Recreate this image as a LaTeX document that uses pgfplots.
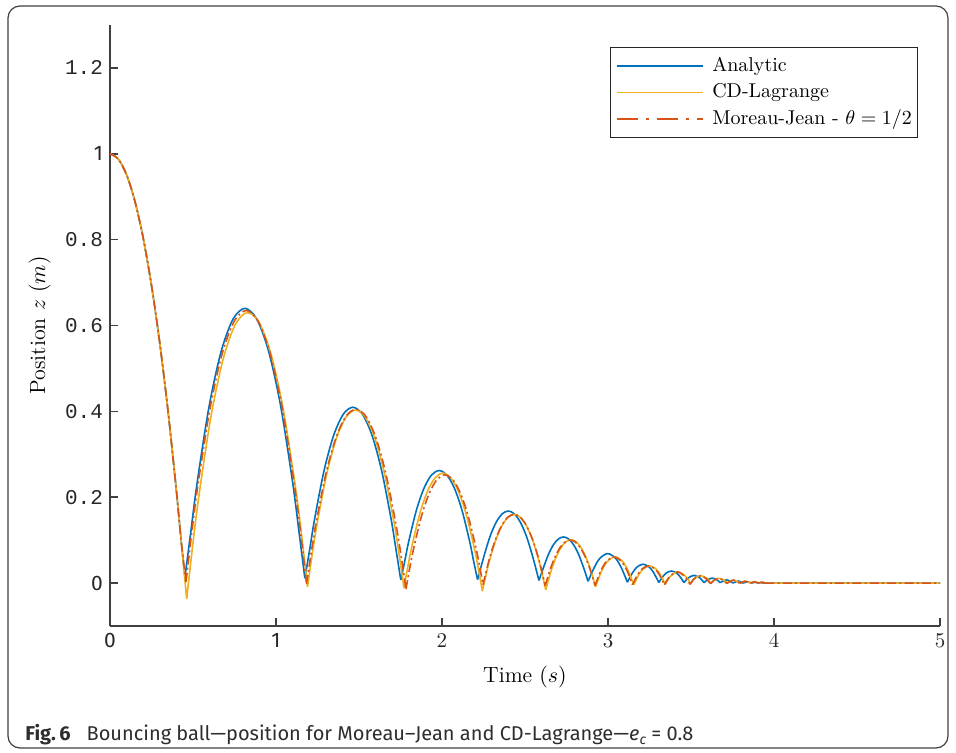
\documentclass[border=0pt]{standalone}
\usepackage{pgfplots}
\pgfplotsset{compat=1.18}
\usepackage{fontspec}
\newfontfamily\monofont{Liberation Mono}
\newfontfamily\firafont{Fira Sans}
\definecolor{mblue}{RGB}{0,114,189}
\definecolor{myellow}{RGB}{237,177,32}
\definecolor{morange}{RGB}{217,83,25}
\definecolor{axgray}{RGB}{64,64,64}
\definecolor{capgray}{RGB}{45,45,45}
\begin{document}
\begin{tikzpicture}
\useasboundingbox (-55pt,-63.5pt) rectangle (423pt,313pt);
\draw[black!75, line width=0.6pt, rounded corners=6pt] (-51pt,-61pt) rectangle (419pt,310pt);
\begin{axis}[
  scale only axis, width=415pt, height=300.5pt,
  xmin=0, xmax=5, ymin=-0.1, ymax=1.3,
  axis lines=left,
  axis line style={axgray, line width=0.8pt, -},
  xtick={0,1,2,3,4,5},
  xticklabels={{\firafont 0},{\firafont 1},2,3,4,5},
  ytick={0,0.2,0.4,0.6,0.8,1,1.2},
  yticklabels={{\firafont 0},{\monofont 0.2},{\monofont 0.4},{\monofont 0.6},{\monofont 0.8},{\firafont 1},{\monofont 1.2}},
  tick style={axgray, line width=0.8pt},
  major tick length=4pt,
  tick align=inside,
  ticklabel style={font=\fontsize{10.5}{12}\selectfont, text=black!85},
  xlabel={Time $(s)$}, ylabel={Position $z$ $(m)$},
  label style={font=\fontsize{11}{13}\selectfont},
  xlabel style={at={(axis description cs:0.5,-0.0932)}, anchor=base},
  ylabel style={at={(axis description cs:-0.0783,0.5)}, anchor=base},
  legend style={at={(rel axis cs:0.9735,0.9634)}, anchor=north east, draw=black!85, line width=0.6pt, fill=white,
    font=\fontsize{10}{12}\selectfont, inner xsep=1.2pt, inner ysep=2.75pt, row sep=0.25pt,
    nodes={inner sep=1.5pt, text height=7.5pt, text depth=2.5pt}},
  legend cell align=left,
  legend image code/.code={\path (-2pt,0pt); \draw[#1] (0pt,0pt) -- (43pt,0pt); \path (45.5pt,0pt);},
  unbounded coords=jump,
]
\addplot[mblue, line width=0.8pt, smooth] coordinates {
(0,1) (0.05,0.9877) (0.1,0.951) (0.15,0.8896) (0.2,0.8038) (0.25,0.6934) (0.3,0.5586) (0.35,0.3991) (0.4,0.2152) (0.425,0.114) (0.4515,0.014)
(0.4515,nan)
(0.4515,0.014) (0.4876,0.1216) (0.5237,0.2304) (0.596,0.4096) (0.6682,0.5376) (0.7405,0.6144) (0.8127,0.64) (0.8849,0.6144) (0.9572,0.5376) (1.0294,0.4096) (1.1017,0.2304) (1.1378,0.1216) (1.174,0.011)
(1.174,nan)
(1.174,0.011) (1.2029,0.0778) (1.2318,0.1475) (1.2896,0.2621) (1.3474,0.3441) (1.4052,0.3932) (1.463,0.4096) (1.5207,0.3932) (1.5785,0.3441) (1.6363,0.2621) (1.6941,0.1475) (1.723,0.0778) (1.7519,0.007)
(1.7519,nan)
(1.7519,0.007) (1.775,0.0498) (1.7981,0.0944) (1.8444,0.1678) (1.8906,0.2202) (1.9369,0.2517) (1.9831,0.2621) (2.0293,0.2517) (2.0756,0.2202) (2.1218,0.1678) (2.1681,0.0944) (2.1912,0.0498) (2.2143,0.008)
(2.2143,nan)
(2.2143,0.008) (2.2513,0.0604) (2.2883,0.1074) (2.3253,0.1409) (2.3623,0.1611) (2.3993,0.1678) (2.4362,0.1611) (2.4732,0.1409) (2.5102,0.1074) (2.5472,0.0604) (2.5841,0.006)
(2.5841,nan)
(2.5841,0.006) (2.6137,0.0387) (2.6433,0.0687) (2.6729,0.0902) (2.7025,0.1031) (2.7321,0.1074) (2.7616,0.1031) (2.7912,0.0902) (2.8208,0.0687) (2.8504,0.0387) (2.88,0.004)
(2.88,nan)
(2.88,0.004) (2.9155,0.035) (2.951,0.0577) (2.9984,0.0687) (3.0457,0.0577) (3.0812,0.035) (3.1168,0.002)
(3.1168,nan)
(3.1168,0.002) (3.1452,0.0224) (3.1736,0.037) (3.2115,0.044) (3.2494,0.037) (3.2778,0.0224) (3.3062,0.001)
(3.3062,nan)
(3.3062,0.001) (3.3289,0.0143) (3.3517,0.0236) (3.382,0.0281) (3.4123,0.0236) (3.435,0.0143) (3.4577,0.001)
(3.4577,nan)
(3.4577,0.001) (3.4819,0.0115) (3.5183,0.018) (3.5546,0.0115) (3.5789,0.001)
(3.5789,nan)
(3.5789,0.001) (3.5983,0.0074) (3.6274,0.0115) (3.6565,0.0074) (3.6758,0.001)
(3.6758,nan)
(3.6758,0.001) (3.7146,0.0074) (3.7534,0)
(3.7534,nan)
(3.7534,0) (3.7844,0.0047) (3.8154,0)
(3.8154,nan)
(3.8154,0) (3.8403,0.003) (3.8651,0)
(3.8651,nan)
(3.8651,0) (3.885,0.0019) (3.9048,0)
(3.9048,nan)
(3.9048,0) (3.9207,0.0012) (3.9366,0)
(3.9366,nan)
(3.9366,0) (5,0)
};
\addlegendentry{Analytic}
\addplot[myellow, line width=0.8pt, smooth] coordinates {
(0,1) (0.05,0.9877) (0.1,0.951) (0.15,0.8896) (0.2,0.8038) (0.25,0.6934) (0.3,0.5586) (0.35,0.3991) (0.4,0.2152) (0.43,0.093) (0.462,-0.037)
(0.462,nan)
(0.462,-0.037) (0.4984,0.0885) (0.5348,0.2009) (0.6076,0.3865) (0.6804,0.5199) (0.7532,0.6011) (0.826,0.63) (0.8988,0.6067) (0.9716,0.5311) (1.0444,0.4033) (1.1172,0.2233) (1.1536,0.1137) (1.19,-0.009)
(1.19,nan)
(1.19,-0.009) (1.2191,0.0694) (1.2481,0.1396) (1.3062,0.255) (1.3643,0.3374) (1.4224,0.3868) (1.4805,0.403) (1.5386,0.3862) (1.5967,0.3362) (1.6548,0.2532) (1.7129,0.1372) (1.742,0.0667) (1.771,-0.012)
(1.771,nan)
(1.771,-0.012) (1.7946,0.0392) (1.8182,0.085) (1.8654,0.1604) (1.9126,0.214) (1.9598,0.2458) (2.007,0.256) (2.0542,0.2444) (2.1014,0.2112) (2.1486,0.1562) (2.1958,0.0794) (2.2194,0.0329) (2.243,-0.019)
(2.243,nan)
(2.243,-0.019) (2.2812,0.0452) (2.3194,0.0952) (2.3576,0.131) (2.3958,0.1526) (2.434,0.16) (2.4722,0.1532) (2.5104,0.1322) (2.5486,0.097) (2.5868,0.0476) (2.625,-0.016)
(2.625,nan)
(2.625,-0.016) (2.655,0.0256) (2.685,0.058) (2.715,0.0814) (2.745,0.0958) (2.775,0.101) (2.805,0.0972) (2.835,0.0842) (2.865,0.0622) (2.895,0.0312) (2.925,-0.009)
(2.925,nan)
(2.925,-0.009) (2.9595,0.0261) (2.994,0.0492) (3.04,0.061) (3.086,0.0512) (3.1205,0.0296) (3.155,-0.004)
(3.155,nan)
(3.155,-0.004) (3.1835,0.0183) (3.212,0.0328) (3.25,0.04) (3.288,0.0332) (3.3165,0.019) (3.345,-0.003)
(3.345,nan)
(3.345,-0.003) (3.3756,0.0154) (3.4215,0.026) (3.4674,0.016) (3.498,-0.002)
(3.498,nan)
(3.498,-0.002) (3.5224,0.011) (3.559,0.017) (3.5956,0.011) (3.62,-0.001)
(3.62,nan)
(3.62,-0.001) (3.6396,0.007) (3.669,0.011) (3.6984,0.007) (3.718,0)
(3.718,nan)
(3.718,0) (3.757,0.007) (3.796,0)
(3.796,nan)
(3.796,0) (3.827,0.0045) (3.858,0)
(3.858,nan)
(3.858,0) (3.883,0.003) (3.908,0)
(3.908,nan)
(3.908,0) (3.928,0.002) (3.948,0)
(3.948,nan)
(3.948,0) (5,0)
};
\addlegendentry{CD-Lagrange}
\addplot[morange, line width=0.8pt, smooth, dash pattern=on 4.5pt off 1.6pt on 1pt off 1.6pt,
  legend image post style={dash pattern=on 10.5pt off 4pt on 1.5pt off 4pt}] coordinates {
(0,1) (0.05,0.9877) (0.1,0.951) (0.15,0.8896) (0.2,0.8038) (0.25,0.6934) (0.3,0.5586) (0.35,0.3991) (0.4,0.2152) (0.43,0.093) (0.458,0.003)
(0.458,nan)
(0.458,0.003) (0.4943,0.1234) (0.5306,0.2309) (0.6032,0.4081) (0.6758,0.5345) (0.7484,0.6101) (0.821,0.635) (0.8936,0.6091) (0.9662,0.5325) (1.0388,0.4051) (1.1114,0.2269) (1.1477,0.1188) (1.184,-0.002)
(1.184,nan)
(1.184,-0.002) (1.214,0.0759) (1.2439,0.1455) (1.3038,0.2599) (1.3637,0.3413) (1.4236,0.3897) (1.4835,0.405) (1.5434,0.3873) (1.6033,0.3365) (1.6632,0.2527) (1.7231,0.1359) (1.7531,0.0651) (1.783,-0.014)
(1.783,nan)
(1.783,-0.014) (1.8062,0.0361) (1.8294,0.081) (1.8758,0.155) (1.9222,0.2082) (1.9686,0.2406) (2.015,0.252) (2.0614,0.2426) (2.1078,0.2122) (2.1542,0.161) (2.2006,0.089) (2.2238,0.0451) (2.247,-0.004)
(2.247,nan)
(2.247,-0.004) (2.2845,0.0552) (2.322,0.1012) (2.3595,0.134) (2.397,0.1536) (2.4345,0.16) (2.472,0.1532) (2.5095,0.1332) (2.547,0.1) (2.5845,0.0536) (2.622,-0.006)
(2.622,nan)
(2.622,-0.006) (2.652,0.0322) (2.682,0.0618) (2.712,0.083) (2.742,0.0958) (2.772,0.1) (2.802,0.0958) (2.832,0.083) (2.862,0.0618) (2.892,0.0322) (2.922,-0.006)
(2.922,nan)
(2.922,-0.006) (2.9559,0.028) (2.9898,0.05) (3.035,0.061) (3.0802,0.0508) (3.1141,0.0294) (3.148,-0.004)
(3.148,nan)
(3.148,-0.004) (3.1768,0.0184) (3.2056,0.033) (3.244,0.04) (3.2824,0.033) (3.3112,0.0184) (3.34,-0.004)
(3.34,nan)
(3.34,-0.004) (3.3708,0.0151) (3.417,0.026) (3.4632,0.015) (3.494,-0.003)
(3.494,nan)
(3.494,-0.003) (3.5186,0.01) (3.5555,0.017) (3.5924,0.01) (3.617,-0.002)
(3.617,nan)
(3.617,-0.002) (3.6368,0.006) (3.6665,0.011) (3.6962,0.006) (3.716,-0.001)
(3.716,nan)
(3.716,-0.001) (3.7555,0.007) (3.795,-0.001)
(3.795,nan)
(3.795,-0.001) (3.8265,0.0045) (3.858,0)
(3.858,nan)
(3.858,0) (3.883,0.003) (3.908,0)
(3.908,nan)
(3.908,0) (3.928,0.002) (3.948,0)
(3.948,nan)
(3.948,0) (5,0)
};
\addlegendentry{Moreau-Jean - $\theta=1/2$}
\end{axis}
\node[anchor=base west, inner sep=0pt, text=capgray, font=\firafont\fontsize{10}{12}\selectfont] at (-42.5pt,-57pt)
  {{\bfseries Fig.\,6}\hspace{8pt}Bouncing ball—position for Moreau–Jean and CD-Lagrange—{\itshape e\raisebox{-0.4ex}{\fontsize{7}{8}\selectfont c}} = 0.8};
\end{tikzpicture}
\end{document}
